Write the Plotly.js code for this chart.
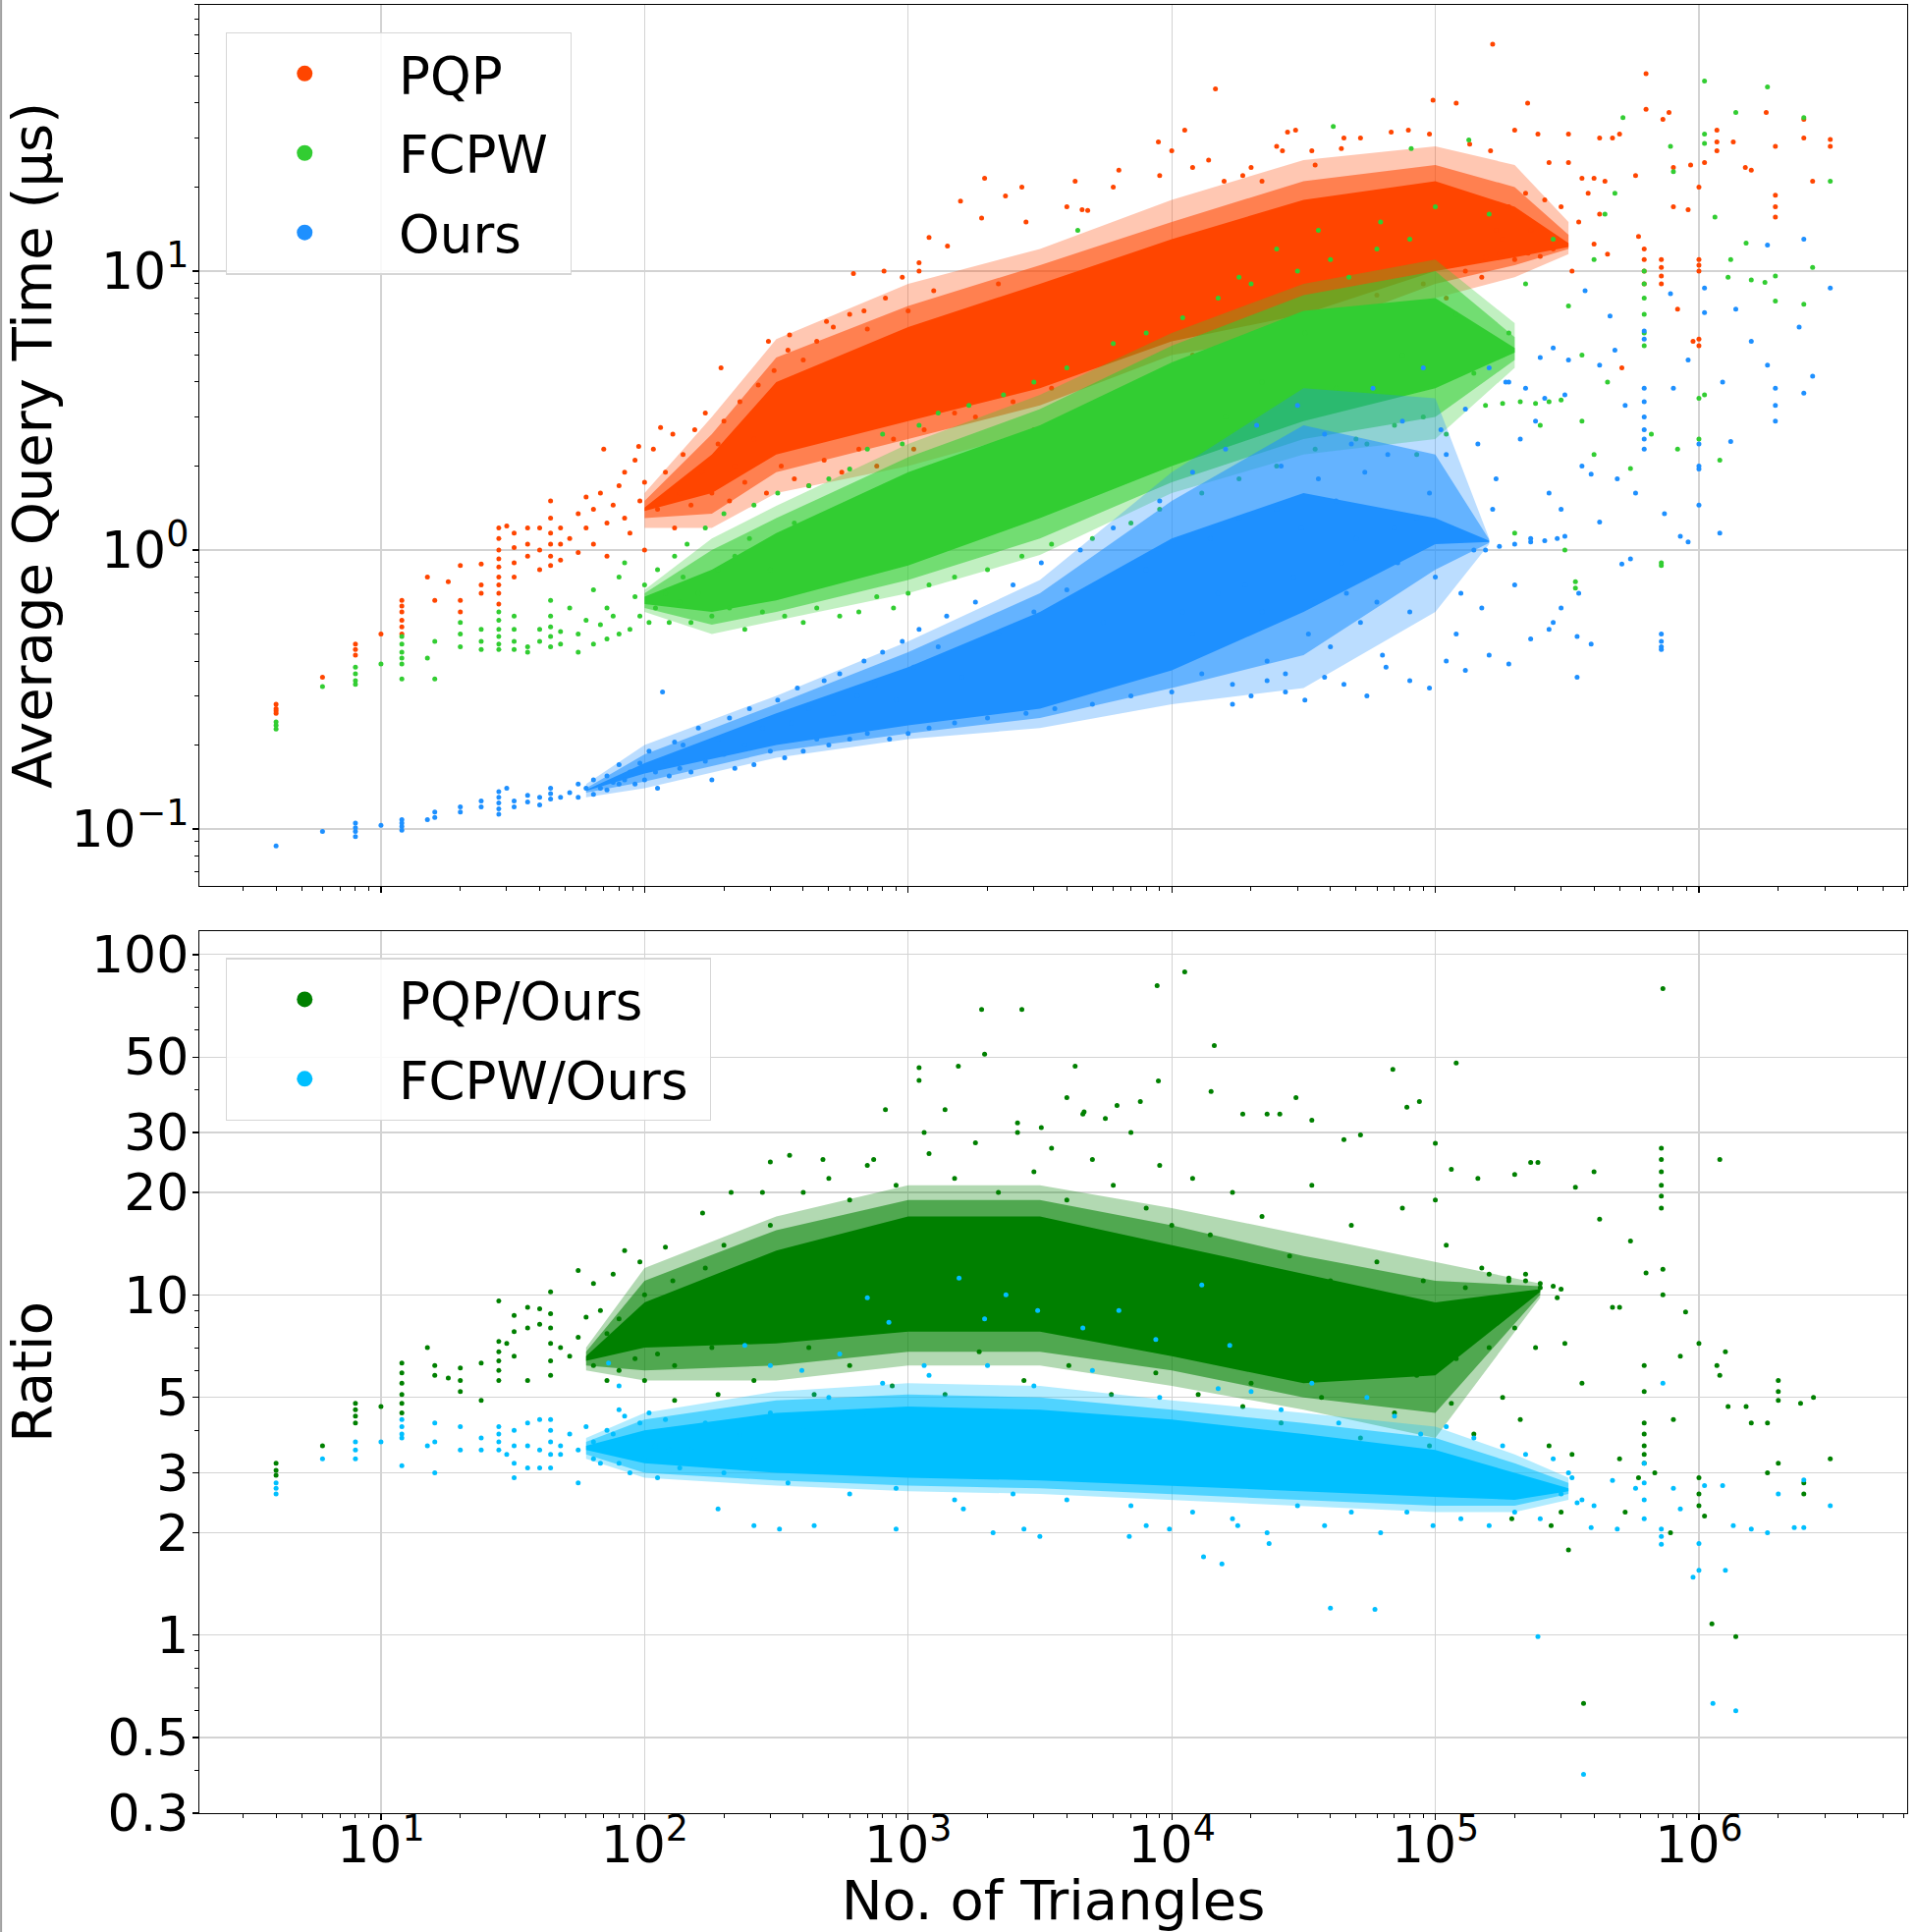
<!DOCTYPE html>
<html>
<head>
<meta charset="utf-8">
<script src="https://cdn.plot.ly/plotly-3.0.1.min.js"></script>
<style>
  body { margin: 0; background: #fff; }
  #chart { width: 1951px; height: 1967px; }
</style>
</head>
<body>
<div id="chart"></div>
<script>
// ---------- DATA ----------
const seriesNames = ["PQP", "FCPW", "Ours"];
const ratioNames = ["PQP/Ours", "FCPW/Ours"];

const xTickVals = [10, 100, 1000, 10000, 100000, 1000000];
const xTickText = ["10<sup>1</sup>", "10<sup>2</sup>", "10<sup>3</sup>", "10<sup>4</sup>", "10<sup>5</sup>", "10<sup>6</sup>"];
const timeTickVals = [0.1, 1, 10];
const timeTickText = ["10<sup>\u22121</sup>", "10<sup>0</sup>", "10<sup>1</sup>"];
const ratioTickVals = [0.3, 0.5, 1, 2, 3, 5, 10, 20, 30, 50, 100];
const ratioTickText = ["0.3", "0.5", "1", "2", "3", "5", "10", "20", "30", "50", "100"];

// where the clouds are too dense to pick single points: outer / middle / core extent
const pqpBandX    = [100, 180, 316, 1000, 3162, 10000, 31623, 100000, 200000, 320000];
const pqpOuterHi  = [1.6, 3.0, 5.7, 9.0, 12, 18, 25, 28, 24, 15];
const pqpOuterLo  = [1.2, 1.2, 1.6, 2.0, 2.7, 4.4, 5.0, 8.0, 9.5, 11.5];
const pqpMidHi    = [1.5, 2.6, 4.9, 7.5, 10.5, 15, 21, 24, 20, 13.5];
const pqpMidLo    = [1.3, 1.35, 1.9, 2.5, 3.3, 5.0, 6.0, 9.0, 10.5, 12];
const pqpCoreHi   = [1.42, 2.2, 4.0, 6.3, 9.0, 13, 18, 21, 17, 12.6];
const pqpCoreLo   = [1.38, 1.6, 2.2, 2.9, 3.8, 5.6, 7.0, 10, 11.2, 12.2];

const fcpwBandX   = [100, 180, 316, 1000, 3162, 10000, 31623, 100000, 200000];
const fcpwOuterHi = [0.72, 1.1, 1.44, 2.4, 3.6, 6.0, 9.0, 11, 6.5];
const fcpwOuterLo = [0.6, 0.5, 0.56, 0.7, 0.96, 1.6, 2.2, 2.5, 4.5];
const fcpwMidHi   = [0.7, 1.0, 1.3, 2.15, 3.2, 5.4, 8.2, 10, 5.8];
const fcpwMidLo   = [0.62, 0.54, 0.6, 0.78, 1.1, 1.75, 2.5, 3.0, 4.8];
const fcpwCoreHi  = [0.68, 0.85, 1.15, 1.9, 2.8, 4.7, 7.2, 8.0, 5.3];
const fcpwCoreLo  = [0.64, 0.6, 0.66, 0.88, 1.3, 2.0, 2.9, 3.8, 5.1];

const oursBandX   = [60, 100, 316, 1000, 3162, 10000, 31623, 100000, 160000];
const oursOuterHi = [0.145, 0.2, 0.3, 0.47, 0.78, 1.9, 3.8, 3.5, 1.1];
const oursOuterLo = [0.13, 0.14, 0.18, 0.21, 0.23, 0.28, 0.32, 0.6, 1.05];
const oursMidHi   = [0.14, 0.185, 0.28, 0.43, 0.7, 1.5, 2.8, 2.2, 1.09];
const oursMidLo   = [0.135, 0.148, 0.19, 0.22, 0.25, 0.32, 0.42, 0.85, 1.06];
const oursCoreHi  = [0.138, 0.172, 0.26, 0.38, 0.6, 1.1, 1.6, 1.3, 1.08];
const oursCoreLo  = [0.137, 0.158, 0.2, 0.235, 0.27, 0.37, 0.6, 1.05, 1.07];

const pqpRBandX   = [60, 100, 316, 1000, 3162, 10000, 31623, 100000, 250000];
const pqpROuterHi = [7, 12, 17, 21, 21, 18, 15, 12.5, 10.8];
const pqpROuterLo = [6, 5.6, 5.6, 6.2, 6.2, 5.4, 4.6, 3.8, 9.8];
const pqpRMidHi   = [6.8, 11, 15.5, 19, 19, 16, 13, 11, 10.6];
const pqpRMidLo   = [6.2, 6.0, 6.2, 6.8, 6.8, 6.0, 5.0, 4.5, 10];
const pqpRCoreHi  = [6.6, 9.5, 13.5, 17, 17, 14, 11.5, 9.5, 10.4];
const pqpRCoreLo  = [6.4, 7.0, 7.2, 7.8, 7.8, 6.6, 5.5, 5.8, 10.2];

const fcpwRBandX   = [60, 100, 316, 1000, 3162, 10000, 31623, 100000, 200000, 320000];
const fcpwROuterHi = [3.8, 4.5, 5.2, 5.5, 5.4, 4.9, 4.5, 4.1, 3.4, 2.9];
const fcpwROuterLo = [3.3, 2.9, 2.75, 2.65, 2.6, 2.5, 2.4, 2.3, 2.3, 2.5];
const fcpwRMidHi   = [3.7, 4.3, 4.9, 5.1, 5.0, 4.6, 4.2, 3.8, 3.2, 2.8];
const fcpwRMidLo   = [3.4, 3.0, 2.85, 2.75, 2.7, 2.6, 2.5, 2.4, 2.4, 2.6];
const fcpwRCoreHi  = [3.6, 4.0, 4.5, 4.7, 4.6, 4.3, 3.9, 3.5, 3.0, 2.7];
const fcpwRCoreLo  = [3.5, 3.2, 3.0, 2.9, 2.85, 2.75, 2.65, 2.55, 2.5, 2.65];

// individual points [triangles, value]
const pqpPoints = [
  [4,0.26],[4,0.27],[4,0.28],[4,0.265],[6,0.35],[8,0.42],[8,0.44],[8,0.46],[10,0.5],
  [12,0.5],[12,0.53],[12,0.56],[12,0.6],[12,0.63],[12,0.66],[15,0.8],[16,0.66],[18,0.77],
  [20,0.88],[20,0.66],[20,0.6],[24,0.89],[24,0.75],[24,0.7],
  [28,1.2],[28,1.1],[28,1.0],[28,0.93],[28,0.87],[28,0.8],[28,0.75],[28,0.7],[28,0.64],[30,1.22],
  [32,1.15],[32,1.02],[32,0.9],[32,0.8],[36,1.2],[36,1.05],[36,0.95],[40,1.2],[40,1.0],[40,0.85],
  [44,1.5],[44,1.3],[44,1.15],[44,1.05],[44,0.95],[44,0.88],[48,1.2],[48,1.05],[48,0.92],
  [52,1.1],[56,1.35],[56,0.98],[60,1.55],[60,1.2],[64,1.05],[64,1.4],[68,1.6],[72,1.25],[72,0.95],[76,1.45],[80,1.7],
  [84,1.9],[84,1.3],[88,1.15],[92,2.1],[96,1.5],[100,1.75],[100,1.0],[108,2.3],[112,1.4],[120,1.9],[128,2.6],[130,1.2],[136,1.6],
  [70,2.3],[95,2.35],[115,2.75],[195,4.5],[295,5.6],[355,5.9],[490,6.6],[620,9.8],[680,7.2],[810,10],[1100,10.7],[1200,13.2],
  [1410,12.3],[1580,17.8],[1900,15.5],[1950,21.5],[2340,18.6],[2700,20],[4300,21],[4570,16.6],[6300,23],[8900,29],[10000,27],
  [11200,32],[12000,23.5],[13800,25],[14650,45],[18600,22],[20000,23.5],
  [140,2.2],[150,1.45],[155,2.7],[165,1.9],[170,3.1],[180,1.6],[190,2.4],[200,2.9],[210,1.5],[220,2.0],[230,3.4],[240,1.75],
  [260,2.5],[270,3.9],[290,1.6],[310,4.4],[330,2.0],[350,5.2],[370,1.8],[400,4.8],[420,1.7],[450,5.6],[480,2.1],[520,6.3],
  [560,1.9],[600,7.0],[650,2.3],[700,6.2],[760,2.0],[820,8.0],[880,2.5],[950,9.5],[1000,7.2],[1050,2.3],[1100,10],[1150,2.7],[1250,8.5],
  [1500,3.1],[1800,3.0],[2200,9],[2500,3.4],[2800,15],[3000,2.7],[3500,3.8],[4000,17],[4800,16.5],[6000,20],[7000,3.6],[9000,22],
  [12000,5.0],[15000,4.8],[22000,21],[25000,28],[35000,24],[45000,30],
  [25000,6.2],[30000,5.8],[40000,7.0],[50000,6.5],[60000,8.2],[70000,7.5],[90000,9.0],[110000,8.0],[130000,10],[150000,9.5],
  [170000,14],[190000,17],[220000,19],[260000,18],[300000,17],[350000,15],[380000,19],[420000,16],[330000,10],[400000,12.5],[450000,11.5],
  [155000,11.2],[175000,11.5],[200000,11],[225000,11.6],[250000,11.3],[280000,12],[310000,12.5],[180000,13],[230000,14],
  [15800,21],[26300,27],[27500,31.5],[29500,32],[34000,27],[44000,27.5],[52000,30],[68000,31.5],[79000,32],[95000,31],[98000,41],
  [120000,40],[135000,28.5],[162000,27],[165000,65],[200000,32],[224000,40],[245000,31],[270000,24.5],[320000,31],[320000,24.5],
  [360000,21.5],[400000,21.5],[420000,30],[440000,21],[470000,30],[500000,31],[510000,4.5],[575000,22],[590000,13.3],
  [620000,12],[620000,11],[620000,10],[620000,9],[630000,51],[630000,38],[720000,11],[720000,10.3],[720000,9.6],[720000,9],
  [730000,35],[770000,37],[800000,17],[800000,23.5],[830000,7.3],[910000,16.6],[930000,24],[950000,5.6],
  [1000000,20],[1000000,11],[1000000,10.5],[1000000,10],[1000000,5.7],[1000000,5.4],[1050000,24.5],[1170000,32],[1170000,29],
  [1170000,27],[1350000,29],[1500000,23.5],[1580000,23],[1800000,37],[1950000,28],[1950000,18.7],[1950000,17],[1950000,15.6],
  [2500000,30],[2500000,35],[2700000,21],[3150000,29.6],[3150000,28]
];

const fcpwPoints = [
  [4,0.235],[4,0.242],[4,0.228],[6,0.324],[8,0.38],[8,0.36],[8,0.34],[8,0.33],[10,0.39],
  [12,0.49],[12,0.46],[12,0.43],[12,0.41],[12,0.39],[12,0.345],[15,0.41],[16,0.47],[16,0.345],
  [20,0.55],[20,0.5],[20,0.45],[24,0.52],[24,0.47],[24,0.44],
  [28,0.6],[28,0.56],[28,0.52],[28,0.49],[28,0.46],[28,0.44],[32,0.58],[32,0.52],[32,0.47],[32,0.44],[36,0.45],[36,0.43],[40,0.52],[40,0.47],
  [44,0.66],[44,0.58],[44,0.53],[44,0.49],[44,0.45],[48,0.51],[48,0.46],
  [52,0.62],[56,0.43],[56,0.5],[60,0.56],[64,0.46],[64,0.72],[68,0.54],[72,0.48],[72,0.62],[76,0.58],[80,0.8],[80,0.5],
  [84,0.9],[88,0.52],[92,0.68],[96,0.58],[100,0.75],[104,0.55],[110,0.62],[112,0.85],[120,0.7],[124,0.55],[130,0.95],[136,0.65],
  [140,0.8],[145,1.05],[150,0.55],[160,0.7],[170,1.2],[180,0.58],[190,0.85],[200,1.35],[210,0.62],[220,0.95],[240,0.52],[250,1.1],
  [260,1.45],[280,0.6],[300,0.85],[320,1.6],[340,0.58],[370,1.25],[400,0.55],[420,1.7],[450,0.62],[500,1.8],[550,0.58],[600,1.95],
  [650,0.6],[700,2.3],[760,0.68],[800,2.6],[880,0.62],[950,2.4],[1000,0.7],[1100,2.8],[1200,0.75],[1300,3.1],[1500,0.8],[1700,3.3],
  [2000,0.85],[2300,3.6],[2700,0.95],[3000,4.0],[3500,1.05],[4000,4.5],[5000,1.1],[6000,5.5],[7000,1.25],[8000,6],[9000,1.4],
  [11000,6.8],[13000,1.6],[15000,8],[18000,1.8],[20000,9],[25000,2.0],[30000,10],[35000,2.3],[40000,11],[50000,2.5],[60000,12],
  [70000,2.8],[80000,13],[90000,3.0],
  [4400,14],[41000,33],[81000,27.5],[134000,29.5],[515000,35.5],[1050000,48],[1820000,45.7],[2500000,35.5],[3150000,21],
  [2700000,10.3],[1950000,9.6],[1950000,7.8],[2500000,7.6],[1780000,9.1],[1580000,9.3],[1290000,9.5],[1050000,31],[1050000,28.7],
  [1150000,15.6],[1320000,11],[1510000,12.6],[1380000,37],[780000,28],[800000,22.7],
  [620000,10],[620000,9],[620000,8],[620000,7],[620000,6],[620000,5.4],[720000,0.9],[720000,0.88],
  [340000,0.77],[340000,0.73],[310000,1.0],[200000,1.15],[550000,1.96],[830000,2.3],[1000000,2.5],[1000000,3.5],[1050000,3.6],
  [1200000,2.1],[660000,2.6],[400000,2.2],[360000,2.9],
  [155000,3.3],[180000,3.35],[210000,3.4],[240000,3.35],[270000,3.4],[300000,3.45],
  [16000,3.0],[18000,9.5],[22000,4],[25000,12],[28000,3.2],[32000,6],[36000,14],[42000,3.8],[47000,9.5],[55000,2.4],[62000,15],
  [75000,5],[85000,2.2],[100000,17],[110000,2.6],[120000,7],[140000,4.3],[160000,16],[190000,6],[220000,9],[250000,2.8],
  [280000,13],[320000,7.5],[360000,5],[400000,11],[450000,4],[480000,19],[440000,16]
];

const oursPoints = [
  [4,0.087],[6,0.098],[8,0.094],[8,0.098],[8,0.101],[8,0.105],[10,0.103],[12,0.099],[12,0.102],[12,0.105],[12,0.108],
  [15,0.108],[16,0.11],[16,0.115],[20,0.115],[20,0.12],[24,0.12],[24,0.126],
  [28,0.113],[28,0.118],[28,0.124],[28,0.13],[28,0.136],[30,0.14],[32,0.12],[32,0.126],[36,0.125],[36,0.132],[40,0.122],[40,0.13],
  [44,0.128],[44,0.134],[44,0.14],[48,0.13],
  [52,0.135],[56,0.145],[56,0.13],[60,0.14],[64,0.15],[64,0.133],[68,0.14],[72,0.155],[72,0.138],[76,0.147],[80,0.17],[80,0.145],
  [84,0.15],[88,0.16],[92,0.145],[96,0.172],[100,0.15],[104,0.19],[110,0.16],[112,0.14],[117,0.31],[120,0.175],[124,0.155],[130,0.205],[136,0.165],
  [140,0.2],[150,0.16],[160,0.23],[170,0.175],[180,0.15],[190,0.21],[200,0.185],[210,0.25],[220,0.165],[240,0.2],[250,0.27],[260,0.17],
  [280,0.23],[300,0.19],[320,0.29],[340,0.18],[360,0.24],[380,0.32],[400,0.19],[420,0.27],[450,0.21],[480,0.34],[500,0.2],[520,0.26],
  [550,0.36],[600,0.21],[640,0.3],[680,0.4],[700,0.22],[750,0.33],[800,0.43],[850,0.21],[900,0.29],[950,0.47],[1000,0.22],[1050,0.38],
  [1100,0.52],[1200,0.23],[1300,0.45],[1400,0.58],[1500,0.24],[1600,0.35],[1800,0.65],[2000,0.25],[2200,0.5],[2500,0.75],[2800,0.26],
  [3000,0.6],[3200,0.9],[3600,0.27],[4000,0.72],[4500,1.0],[5000,0.28],[5500,0.55],[6000,1.2],[7000,0.3],[8000,0.85],[9000,1.5],
  [10000,0.31],[11000,0.6],[12000,1.9],[13000,0.36],[14000,1.1],[16000,2.3],[17000,0.33],[19000,0.75],[21000,2.8],[23000,0.4],
  [25000,1.4],[27000,0.36],[30000,3.3],[33000,0.5],[36000,1.8],[40000,0.45],[44000,0.9],[48000,2.4],[52000,0.55],[58000,3.8],
  [63000,0.42],[70000,1.2],[75000,2.9],[80000,0.6],[90000,4.5],[95000,1.6],[100000,0.8],[110000,2.2],[120000,0.5],[130000,3.2],
  [140000,1.0],[150000,0.62],[170000,1.8],[185000,4.0],[200000,0.75],[210000,2.5],[230000,1.1],[260000,3.5],[280000,0.55],
  [300000,1.4],[320000,4.8],[360000,2.0],
  [12000,0.5],[15000,0.7],[18000,1.3],[22000,0.6],[26000,2.0],[29000,0.8],[31000,1.2],[35000,0.65],[38000,2.6],[42000,1.5],
  [46000,0.7],[50000,1.1],[54000,1.9],[60000,0.65],[66000,2.2],[72000,0.9],[85000,1.3],[105000,2.7],[115000,1.2],[125000,0.7],
  [145000,2.4],[165000,1.4],[240000,2.9],[270000,1.6],
  [155000,1.0],[175000,1.03],[200000,1.05],[230000,1.07],[260000,1.08],[290000,1.1],[310000,1.12],
  [160000,4.5],[190000,4.0],[220000,3.8],[250000,4.9],[280000,5.3],[310000,3.6],
  [17000,0.28],[20000,0.3],[23000,0.34],[27000,0.31],[32000,0.29],[38000,0.35],[45000,0.33],[55000,0.3],[65000,0.38],[80000,0.34],
  [95000,0.32],[110000,0.4],[130000,0.37],[160000,0.42],[190000,0.39],[230000,0.48],[270000,0.52],[300000,0.62],[350000,0.7],
  [720000,0.5],[720000,0.47],[720000,0.45],[720000,0.44],[620000,3.8],[620000,3.4],[620000,3.0],[620000,2.7],[620000,2.5],
  [620000,2.3],[620000,6.1],[620000,5.7],
  [1000000,2.0],[1000000,1.95],[1000000,2.4],[1000000,1.45],[1050000,8.7],[1050000,7.1],[1200000,1.15],[1320000,2.45],
  [1380000,7.3],[1230000,4.0],[1580000,5.6],[1820000,4.6],[1950000,3.8],[1950000,3.3],[1950000,2.9],[1820000,12.4],[2500000,13],
  [2400000,6.3],[2500000,3.65],[3150000,8.7],[2700000,4.2],
  [780000,8.3],[910000,4.8],[800000,3.8],[740000,1.35],[850000,1.12],[910000,1.07],[550000,0.93],[510000,0.89],[390000,0.46],
  [345000,0.35],[345000,0.49],[390000,1.87],[420000,1.26],[490000,1.8],[575000,1.6],[525000,3.3],[480000,5.2],[460000,6.9],
  [370000,8.5],[420000,4.6]
];

const pqpRatioPoints = [
  [4,3.2],[4,3.05],[4,2.95],[6,3.6],[8,4.8],[8,4.6],[8,4.4],[8,4.2],[10,4.7],
  [12,6.3],[12,5.9],[12,5.5],[12,5.1],[12,4.8],[12,4.5],[15,7.0],[16,6.2],[16,5.8],[18,5.7],[20,6.1],[20,5.6],[20,5.2],[24,6.3],[24,4.9],
  [28,9.6],[28,7.3],[28,6.8],[28,6.4],[28,6.0],[28,5.6],[30,7.2],[32,8.7],[32,7.8],[32,6.6],[36,9.2],[36,8.0],[36,5.6],[40,9.1],[40,8.2],
  [44,10.2],[44,8.8],[44,8.0],[44,7.2],[44,6.4],[44,5.8],[48,7.0],
  [52,6.6],[56,11.8],[56,7.5],[60,8.6],[64,10.8],[64,6.2],[68,9.0],[72,7.7],[72,5.6],[76,11.5],[80,8.5],[80,6.0],
  [84,13.5],[88,8.0],[92,6.5],[96,12.5],[100,10],[100,5.6],[104,7.3],[110,9.5],[112,6.7],[120,13.8],[124,8.3],[128,11],[130,4.9],[136,7.8],
  [166,17.4],[213,20],[280,20],[300,24.6],[355,25.7],[475,25],[740,25],[820,35],[1100,46.5],[1100,42.7],[1550,47],[1900,69],
  [1950,51],[2700,69],[4300,47],[4600,34],[4650,34.5],[8800,81],[11200,89],[14500,54],[8900,42.5],[14100,39.6],[7600,37],
  [5600,33],[4000,38],[2600,32],[1380,35],[1150,30],[3200,31],[6200,36],[18600,34],
  [130,6.2],[190,5.1],[260,5.6],[440,5.1],[600,6.2],[870,5.4],[1380,5.1],[1860,6.8],[2750,5.6],[4070,6.2],[5900,5.1],[8700,5.9],
  [12600,5.1],[18600,4.7],
  [150,9],[170,12],[180,7],[200,14],[230,10],[260,8],[300,16],[350,11],[400,20],[420,7],[500,22],[550,12],[600,19],[700,24],
  [800,9],[900,21],[1200,26],[1500,22],[1800,28],[2200,20],[2600,30],[3000,23],[3500,27],[4000,19],[5000,25],[6000,21],[7000,30],
  [8000,18],[9000,24],[10000,16],[12000,22],[14000,15],[17000,20],
  [730000,79.5],[120000,48],[69000,46],[87000,37],[78000,35.6],[100000,27.9],[29600,38],[23000,34],[25700,34],[34000,32.6],
  [45000,28.6],[52000,29.5],[1200000,25],
  [720000,27],[720000,25],[720000,23],[720000,21],[720000,19.5],[720000,18],
  [340000,20.7],[400000,23],[245000,24.5],[230000,24.5],[200000,22.6],[145000,22],[115000,23.4],[100000,19],[420000,16.7],
  [550000,14.4],[630000,11.6],[730000,11.9],[730000,10],[470000,9.2],[500000,9.2],[890000,8.9],[850000,6.6],[1000000,7.2],
  [1170000,6.2],[1200000,5.8],[1260000,6.8],
  [2000000,5.6],[2000000,5.2],[2000000,4.9],[2430000,4.8],[2720000,5.0],[1510000,4.7],[1290000,4.7],[1580000,4.2],[1820000,4.2],
  [3150000,3.3],[2500000,2.8],[2500000,2.6],[2000000,3.2],[1820000,3.0],[1000000,2.9],[1000000,2.6],[1000000,2.4],[1050000,2.24],
  [780000,2.0],[800000,4.3],
  [620000,4.2],[620000,3.9],[620000,3.6],[620000,3.4],[620000,3.2],[620000,6.2],[620000,5.2],[680000,3.0],[525000,2.3],
  [500000,3.3],[590000,2.9],[320000,1.78],[1120000,1.08],[1380000,0.99],[365000,0.63],[300000,2.3],[275000,2.1],[195000,2.2],
  [16000,8],[18000,12],[20000,5.5],[22000,17],[24000,9.5],[26000,4.2],[28000,13],[31000,7],[34000,21],[37000,5],[40000,11],
  [44000,8.5],[48000,16],[52000,3.8],[56000,6.5],[60000,12.5],[65000,9],[70000,4.5],[75000,18],[80000,7.5],[85000,5.8],
  [90000,11],[95000,3.6],[100000,8],[110000,14],[115000,4.8],[120000,6.5],[130000,10.5],[140000,3.9],[150000,12],[160000,7],
  [170000,9.5],[180000,5],[190000,11],[200000,8],[210000,4.3],[220000,11.5],[240000,7],[250000,10.5],[270000,3.6],[290000,9.8],
  [310000,7.2],[330000,3.4],[360000,5.5],
  [160000,11.5],[190000,11.2],[220000,11.0],[250000,10.8],[280000,10.6],[300000,10.4]
];

const fcpwRatioPoints = [
  [4,2.8],[4,2.7],[4,2.6],[6,3.3],[8,3.7],[8,3.5],[8,3.3],[10,3.7],[12,4.3],[12,4.1],[12,3.9],[12,3.8],[12,3.15],[15,3.6],
  [16,4.2],[16,3.7],[16,3.0],[20,4.1],[20,3.5],[24,3.8],[24,3.5],
  [28,4.1],[28,3.9],[28,3.7],[28,3.5],[30,3.4],[32,4.0],[32,3.6],[32,3.2],[32,2.9],[36,4.2],[36,3.6],[36,3.1],[40,4.3],[40,3.5],
  [40,3.1],[44,4.3],[44,4.0],[44,3.7],[44,3.4],[44,3.1],[48,3.6],[48,3.4],
  [52,3.9],[56,2.8],[56,3.5],[60,4.1],[64,3.3],[64,3.7],[68,3.2],[72,4.0],[72,3.5],[73,6.3],[76,3.9],[80,3.2],[80,5.4],[80,4.6],
  [84,4.4],[88,3.0],[92,3.8],[96,4.2],[100,3.3],[104,4.5],[110,3.6],[112,2.9],[120,4.3],[124,3.5],[130,3.9],[136,3.1],
  [240,7.1],[395,6.0],[700,9.8],[845,8.3],[1560,11.2],[2350,10],[4600,8.0],[13000,10.7],[16600,7.1],[6300,9.0],[3100,9.0],
  [1150,6.2],[550,6.7],[300,6.2],[1950,8.5],[8700,7.4],
  [190,2.35],[260,2.1],[325,2.05],[440,2.1],[900,2.05],[1620,2.35],[2100,2.0],[2750,2.05],[3160,1.95],[6900,1.95],[8000,2.1],
  [9800,2.05],[13200,1.7],[15500,1.62],[17800,2.1],[23400,1.86],
  [150,3.5],[170,4.2],[200,3.0],[230,3.9],[260,3.3],[300,4.5],[350,2.8],[400,4.0],[450,3.2],[500,5.0],[600,2.6],[700,4.4],
  [800,5.5],[900,2.7],[1200,5.8],[1500,2.5],[2000,6.2],[2500,2.6],[3000,5.4],[4000,2.5],[5000,6.0],[7000,2.4],[9000,5.0],
  [12000,2.3],[15000,5.3],
  [17000,2.2],[20000,5.2],[23000,2.0],[26000,4.6],[30000,2.4],[34000,5.5],[38000,2.1],[43000,4.2],[48000,2.3],[55000,5.0],
  [62000,2.0],[70000,4.4],[78000,2.3],[88000,3.9],[98000,2.1],[110000,4.1],[125000,2.2],[140000,3.8],[160000,2.1],[180000,3.6],
  [200000,2.3],[220000,3.4],[250000,2.2],[280000,3.3],[300000,2.6],[330000,2.9],[360000,2.5],[400000,2.4],
  [40000,1.2],[59000,1.19],[245000,0.99],[365000,0.39],[1130000,0.63],[1380000,0.6],[1000000,1.55],[950000,1.48],[1260000,1.55],
  [1000000,1.86],[730000,5.5],[720000,2.05],[720000,1.95],[720000,1.85],
  [620000,3.2],[620000,2.8],[620000,2.5],[620000,2.2],[2000000,2.6],[2500000,2.86],[2500000,2.07],[2300000,2.07],[3150000,2.4],
  [1820000,2.0],[1580000,2.05],[1350000,2.1],[1230000,2.75],[1050000,2.75],[850000,2.35],[800000,2.7],[575000,2.7],[490000,2.05],
  [470000,2.85],[390000,2.07],[345000,2.45],[320000,3.0]
];

// ---------- STYLE ----------
const FONT = "DejaVu Sans, Liberation Sans, sans-serif";
const colors = { pqp: "#ff4500", fcpw: "#32cd32", ours: "#1e90ff", pqpR: "#008000", fcpwR: "#00bfff" };

function fade(hex, a) {
  const n = parseInt(hex.slice(1), 16);
  return `rgba(${(n >> 16) & 255},${(n >> 8) & 255},${n & 255},${a})`;
}

function band(xs, lo, hi, color, alpha, xa, ya) {
  return {
    type: "scatter", mode: "lines",
    x: xs.concat(xs.slice().reverse()),
    y: hi.concat(lo.slice().reverse()),
    fill: "toself", fillcolor: fade(color, alpha),
    line: { width: 0 }, xaxis: xa, yaxis: ya,
    showlegend: false, hoverinfo: "skip"
  };
}

// outer, middle and core layer of one cloud
function cloud(xs, oLo, oHi, mLo, mHi, cLo, cHi, color, xa, ya) {
  return [
    band(xs, oLo, oHi, color, 0.3, xa, ya),
    band(xs, mLo, mHi, color, 0.55, xa, ya),
    band(xs, cLo, cHi, color, 1, xa, ya)
  ];
}

function dots(pts, color, xa, ya) {
  return {
    type: "scatter", mode: "markers",
    x: pts.map(p => p[0]), y: pts.map(p => p[1]),
    marker: { color: color, size: 5 },
    xaxis: xa, yaxis: ya, showlegend: false, hoverinfo: "skip"
  };
}

function legendItem(name, color, xa, ya, legend) {
  return {
    type: "scatter", mode: "markers", name: "\u00a0" + name + "\u00a0", x: [null], y: [null],
    marker: { color: color, size: 16 }, xaxis: xa, yaxis: ya,
    legend: legend, legendgroup: name
  };
}

function minorVals(e0, e1) {
  const v = [];
  for (let e = e0; e <= e1; e++) for (let m = 2; m <= 9; m++) v.push(m * Math.pow(10, e));
  return v;
}

// ---------- TRACES ----------
const traces = [].concat(
  cloud(pqpBandX, pqpOuterLo, pqpOuterHi, pqpMidLo, pqpMidHi, pqpCoreLo, pqpCoreHi, colors.pqp, "x", "y"),
  [dots(pqpPoints, colors.pqp, "x", "y")],
  cloud(fcpwBandX, fcpwOuterLo, fcpwOuterHi, fcpwMidLo, fcpwMidHi, fcpwCoreLo, fcpwCoreHi, colors.fcpw, "x", "y"),
  [dots(fcpwPoints, colors.fcpw, "x", "y")],
  cloud(oursBandX, oursOuterLo, oursOuterHi, oursMidLo, oursMidHi, oursCoreLo, oursCoreHi, colors.ours, "x", "y"),
  [dots(oursPoints, colors.ours, "x", "y")],

  cloud(pqpRBandX, pqpROuterLo, pqpROuterHi, pqpRMidLo, pqpRMidHi, pqpRCoreLo, pqpRCoreHi, colors.pqpR, "x2", "y2"),
  [dots(pqpRatioPoints, colors.pqpR, "x2", "y2")],
  cloud(fcpwRBandX, fcpwROuterLo, fcpwROuterHi, fcpwRMidLo, fcpwRMidHi, fcpwRCoreLo, fcpwRCoreHi, colors.fcpwR, "x2", "y2"),
  [dots(fcpwRatioPoints, colors.fcpwR, "x2", "y2")],

  [
    legendItem(seriesNames[0], colors.pqp, "x", "y", "legend"),
    legendItem(seriesNames[1], colors.fcpw, "x", "y", "legend"),
    legendItem(seriesNames[2], colors.ours, "x", "y", "legend"),
    legendItem(ratioNames[0], colors.pqpR, "x2", "y2", "legend2"),
    legendItem(ratioNames[1], colors.fcpwR, "x2", "y2", "legend2")
  ]
);

// ---------- LAYOUT ----------
const axisCommon = {
  type: "log", showline: true, mirror: true, linecolor: "#000", linewidth: 1.3,
  showgrid: true, gridcolor: "#d3d3d3", gridwidth: 1.2, zeroline: false,
  ticks: "outside", ticklen: 6, tickwidth: 1.3, tickcolor: "#000",
  tickfont: { family: FONT, size: 52, color: "#000" },
  tickmode: "array",
  minor: { ticks: "outside", ticklen: 3.5, tickwidth: 1, tickcolor: "#000", showgrid: false, tickmode: "array" }
};

const legendCommon = {
  xanchor: "left", yanchor: "top",
  font: { family: FONT, size: 53, color: "#000" },
  bgcolor: "rgba(255,255,255,0.85)", bordercolor: "#d6d6d6", borderwidth: 1.3,
  itemsizing: "trace", itemwidth: 148, tracegroupgap: 9, traceorder: "grouped"
};

const titleFont = { family: FONT, size: 56, color: "#000" };

const layout = {
  width: 1951, height: 1967,
  margin: { l: 203, r: 9, t: 5, b: 121 },
  paper_bgcolor: "#fff", plot_bgcolor: "#fff",
  font: { family: FONT, color: "#000" },
  hovermode: false,
  xaxis: Object.assign({}, axisCommon, {
    range: [0.311, 6.79], anchor: "y", domain: [0, 1],
    tickvals: xTickVals, ticktext: xTickText, showticklabels: false,
    minor: Object.assign({}, axisCommon.minor, { tickvals: minorVals(0, 6) })
  }),
  yaxis: Object.assign({}, axisCommon, {
    range: [-1.204, 1.954], anchor: "x", domain: [0.5128, 1],
    tickvals: timeTickVals, ticktext: timeTickText, ticklabelstandoff: -7,
    minor: Object.assign({}, axisCommon.minor, { tickvals: minorVals(-2, 1) }),
    title: { text: "Average Query Time (\u00b5s)", font: titleFont, standoff: 19 }
  }),
  xaxis2: Object.assign({}, axisCommon, {
    range: [0.311, 6.79], anchor: "y2", domain: [0, 1],
    tickvals: xTickVals, ticktext: xTickText, ticklabelstandoff: -20,
    minor: Object.assign({}, axisCommon.minor, { tickvals: minorVals(0, 6) }),
    title: { text: "No. of Triangles", font: titleFont, standoff: 22 }
  }),
  yaxis2: Object.assign({}, axisCommon, {
    range: [-0.523, 2.069], anchor: "x2", domain: [0, 0.4878],
    tickvals: ratioTickVals, ticktext: ratioTickText, ticklabelstandoff: -7,
    minor: Object.assign({}, axisCommon.minor, { tickvals: minorVals(-1, 2) }),
    title: { text: "Ratio", font: titleFont, standoff: 47 }
  }),
  legend: Object.assign({}, legendCommon, { x: 0.0155, y: 0.985 }),
  legend2: Object.assign({}, legendCommon, { x: 0.0155, y: 0.473 }),
  shapes: [{
    type: "line", xref: "paper", yref: "paper",
    x0: -0.1161, x1: -0.1161, y0: -0.0657, y1: 1.0027,
    line: { color: "#a0a0a0", width: 2 }
  }]
};

Plotly.newPlot("chart", traces, layout, { staticPlot: true, displayModeBar: false });
</script>
</body>
</html>
